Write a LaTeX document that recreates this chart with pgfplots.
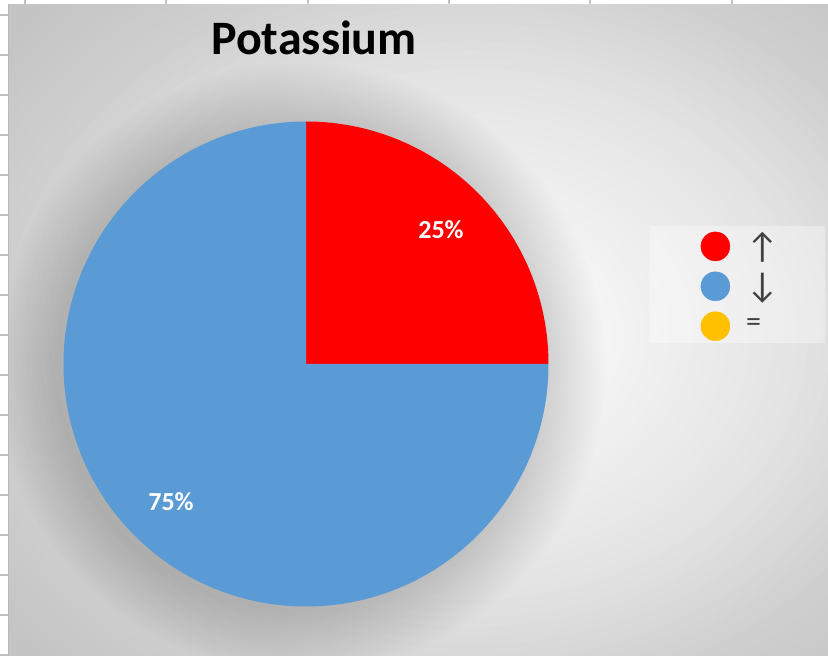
\documentclass[border=0pt]{standalone}
\usepackage{pgfplots}
\pgfplotsset{compat=1.18}
\usepackage{pgfplotstable}
\usepackage{fontspec}
\setmainfont{Carlito}
\definecolor{upred}{HTML}{FF0000}
\definecolor{downblue}{HTML}{5B9BD5}
\definecolor{eqyellow}{HTML}{FFC000}
\definecolor{gridgray}{HTML}{C0C0C0}
\definecolor{legtext}{HTML}{404040}
\definecolor{chartedge}{HTML}{C4C4C4}

% share of each trend, in percent
\pgfplotstableread{
trend share
up    25
down  75
same  0
}\potassium

\begin{document}
\begin{tikzpicture}[x=1pt,y=1pt]
\pgfplotstablegetelem{0}{share}\of\potassium \let\shareUp\pgfplotsretval
\pgfplotstablegetelem{1}{share}\of\potassium \let\shareDown\pgfplotsretval
\pgfmathsetmacro\aUp{90-3.6*\shareUp}
\pgfmathsetmacro\aDown{\aUp-3.6*\shareDown}

% sheet cells and chart area
\fill[white] (0,0) rectangle (828,656);
\foreach \gx in {25,166,308,449,590,732}
  \draw[gridgray,line width=2pt] (\gx,651) -- (\gx,656);
\foreach \gy in {15,55,...,655}
  \draw[gridgray,line width=2pt] (0,656-\gy) -- (8,656-\gy);
\begin{scope}
  \clip (8,0) rectangle (828,652);
  \fill[chartedge] (8,0) rectangle (828,652);
  % radial glow: stacked ellipses, lighter towards the middle
  \foreach \i in {0,...,49}
    \fill[white,opacity={0.02+0.1*\i/49}] (470,322)
      ellipse ({(1.41-0.0275*\i)*420} and {(1.41-0.0275*\i)*330});
  % soft shadow round the pie
  \foreach \i in {1,...,40}
    \fill[black,opacity=0.0038] (300,288) circle ({242+1.6*\i});
\end{scope}
\draw[gray!55] (8.5,0) -- (8.5,652);
% legend box
\fill[white,opacity=0.35] (650,313) rectangle (825,430);

\node[anchor=base,font=\fontsize{48}{56}\selectfont\bfseries] at (314,601) {Potassium};

\begin{axis}[
  hide axis, scale only axis,
  width=485pt, height=485pt,
  xmin=-1, xmax=1, ymin=-1, ymax=1,
  at={(306pt,292pt)}, anchor=origin,
  clip=false,
  legend cell align=left,
  legend style={at={(1.3134,0.7732)}, anchor=north west, draw=none, fill=none,
    inner sep=0pt, row sep=10.5pt, column sep=16pt,
    nodes={inner sep=0pt, text=legtext, font=\fontsize{30}{32}\selectfont}},
]
\fill[upred] (axis cs:0,0) -- (axis cs:0,1)
  arc[start angle=90, end angle=\aUp, radius=242.5pt] -- cycle;
\fill[downblue] (axis cs:0,0) -- ++(\aUp:242.5pt)
  arc[start angle=\aUp, end angle=\aDown, radius=242.5pt] -- cycle;
\node[white,font=\fontsize{26}{30}\selectfont\bfseries] at (axis cs:0.5567,0.5526) {25\%};
\node[white,font=\fontsize{26}{30}\selectfont\bfseries] at (axis cs:-0.5567,-0.569) {75\%};

\addlegendimage{legend image code/.code={\fill[upred] (14.5pt,0) circle (14.5pt);}}
\addlegendentry{\fontsize{36}{36}\selectfont ↑}
\addlegendimage{legend image code/.code={\fill[downblue] (14.5pt,0) circle (14.5pt);}}
\addlegendentry{\fontsize{36}{36}\selectfont ↓}
\addlegendimage{legend image code/.code={\fill[eqyellow] (14.5pt,0) circle (14.5pt);}}
\addlegendentry{=}
\end{axis}
\pgfresetboundingbox
\path[use as bounding box] (0,0) rectangle (828,656);
\end{tikzpicture}
\end{document}
